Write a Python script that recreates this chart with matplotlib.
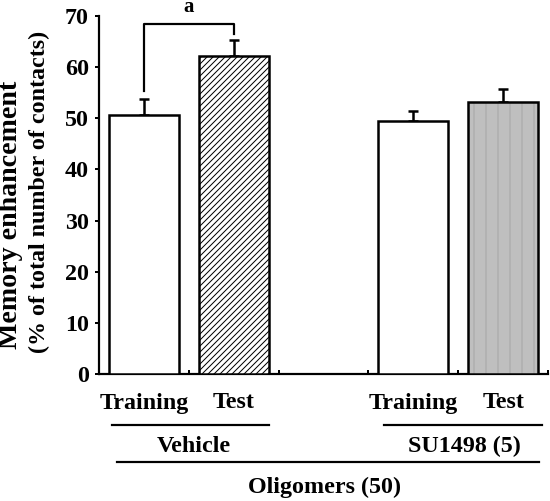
import matplotlib
matplotlib.use("Agg")
import matplotlib.pyplot as plt

categories = ["Training", "Test", "Training", "Test"]
positions = [0, 1, 3, 4]
means = [50.7, 62.1, 49.5, 53.2]
errors = [3.1, 3.3, 1.9, 2.6]
yticks = [0, 10, 20, 30, 40, 50, 60, 70]
group_labels = ["Vehicle", "SU1498 (5)"]
outer_label = "Oligomers (50)"
ylabel_lines = ["Memory enhancement", "(% of total number of contacts)"]

DPI = 72
W, H = 550, 501
plt.rcParams['font.family'] = ['Liberation Serif', 'DejaVu Serif']
plt.rcParams['font.weight'] = 'bold'
plt.rcParams['hatch.linewidth'] = 1.0

fig = plt.figure(figsize=(W / DPI, H / DPI), dpi=DPI)
ax = fig.add_axes([99 / W, (H - 374) / H, (548 - 99) / W, (374 - 16) / H])

FS = 24
bw = 0.78
# Training bars (white)
ax.bar([positions[0], positions[2]], [means[0], means[2]], width=bw,
       facecolor='white', edgecolor='black', linewidth=2.5, zorder=3)
# Vehicle test (dense diagonal hatch)
ax.bar(positions[1], means[1], width=bw, facecolor='white', edgecolor='black',
       hatch='////', linewidth=2.5, zorder=3)
# SU1498 test (gray with faint vertical stripes)
ax.bar(positions[3], means[3], width=bw, facecolor='#bfbfbf', edgecolor='#a6a6a6',
       hatch='|', linewidth=0, zorder=3)
ax.bar(positions[3], means[3], width=bw, facecolor='none', edgecolor='black',
       linewidth=2.5, zorder=4)

ax.errorbar(positions, means, yerr=[[0] * 4, errors], fmt='none', ecolor='black',
            elinewidth=2.5, capsize=5, capthick=2.5, zorder=2)

# significance bracket
ax.plot([0, 0, 1, 1], [55.3, 68.4, 68.4, 66.5], color='black', lw=2.2,
        clip_on=False, zorder=5)
ax.text(0.5, 70.7, 'a', ha='center', va='baseline', fontsize=21, fontweight='bold',
        clip_on=False)

ax.set_xlim(-0.5, 4.5)
ax.set_ylim(0, 70)
ax.set_yticks(yticks)
ax.set_yticklabels([str(v) for v in yticks], fontsize=FS, fontweight='bold')
ax.set_xticks([0.5, 1.5, 2.5, 3.5, 4.5])
ax.set_xticklabels([])
ax.tick_params(axis='x', direction='in', length=4, width=2)
ax.tick_params(axis='y', direction='out', length=4, width=2, pad=6)
for s in ['top', 'right']:
    ax.spines[s].set_visible(False)
for s in ['left', 'bottom']:
    ax.spines[s].set_linewidth(2.2)

# category labels
for p, c in zip(positions, categories):
    ax.text(p, -29 / 358, c, transform=ax.get_xaxis_transform(), ha='center',
            va='center', fontsize=FS, fontweight='bold')

def fx(px):
    return px / W

def fy(py):
    return 1 - py / H

# group lines and labels
for (x0, x1), lab, cx in zip([(112, 269), (384, 542)], group_labels, [194, 464]):
    fig.add_artist(plt.Line2D([fx(x0), fx(x1)], [fy(425), fy(425)], color='black', lw=2.2))
    fig.text(fx(cx), fy(446), lab, ha='center', va='center', fontsize=FS, fontweight='bold')
fig.add_artist(plt.Line2D([fx(117), fx(539)], [fy(462), fy(462)], color='black', lw=2.2))
fig.text(fx(324), fy(487), outer_label, ha='center', va='center', fontsize=FS, fontweight='bold')

# y label (two lines)
fig.text(fx(11), fy(215), ylabel_lines[0], rotation=90, ha='center', va='center',
         fontsize=28, fontweight='bold')
fig.text(fx(39), fy(192), ylabel_lines[1], rotation=90, ha='center', va='center',
         fontsize=FS, fontweight='bold')

fig.savefig('out.png', dpi=DPI)
